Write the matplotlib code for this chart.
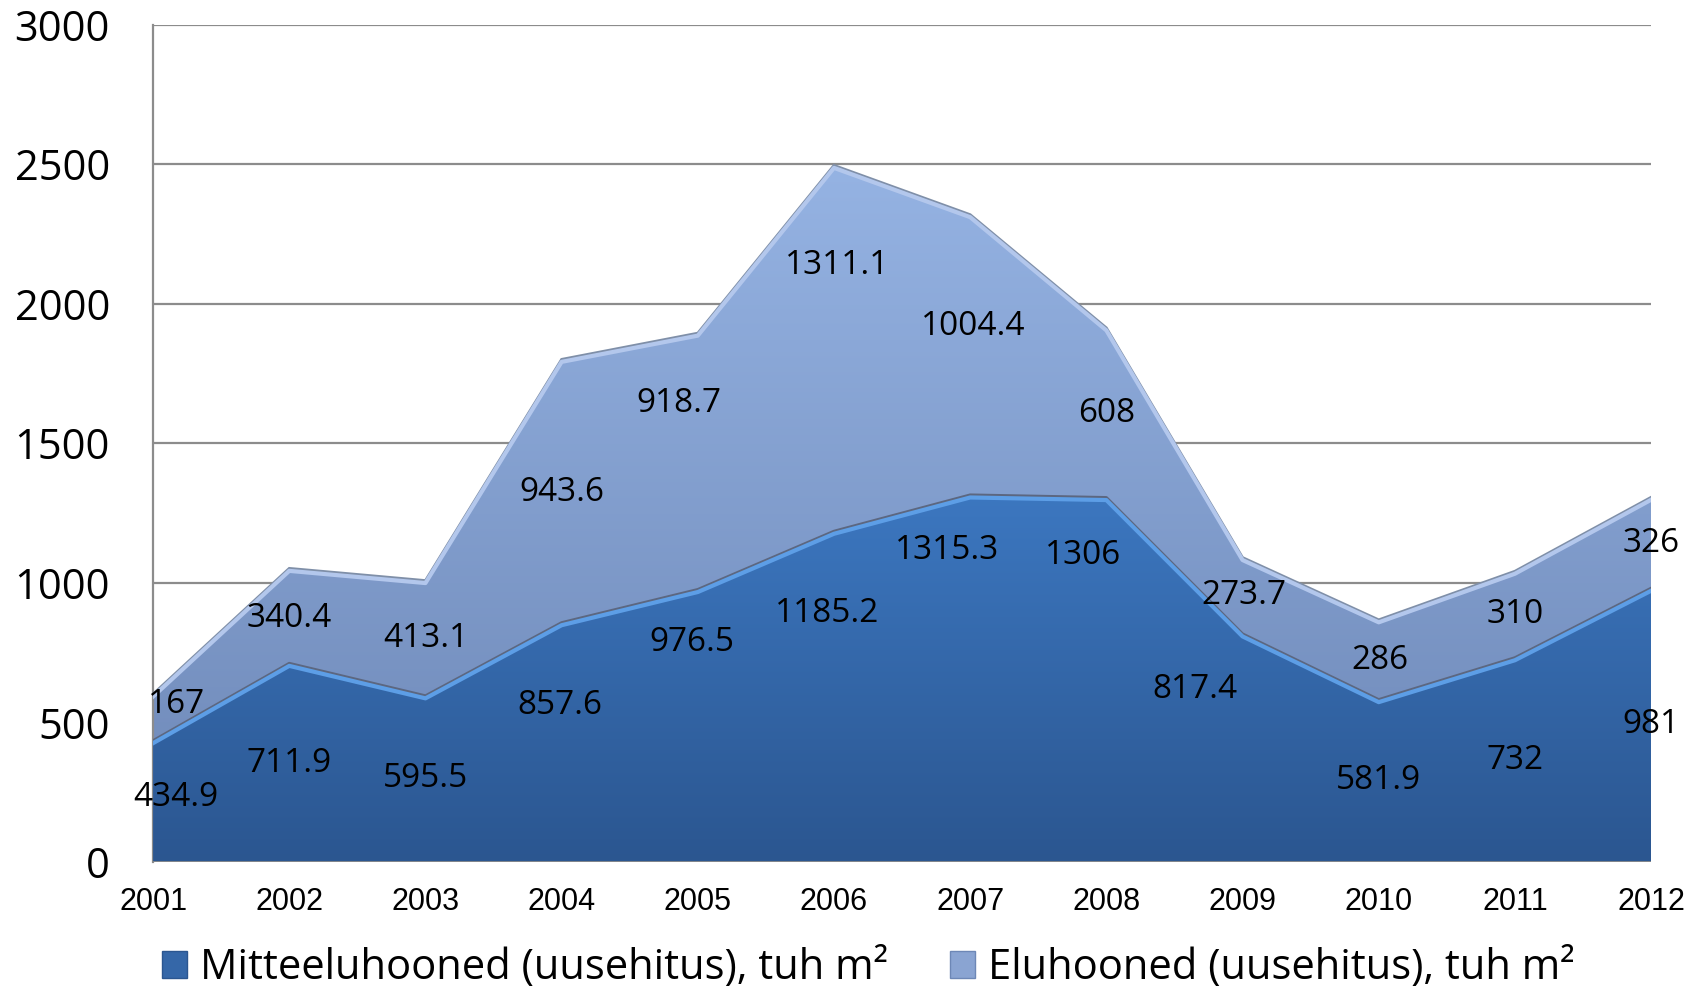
import matplotlib.pyplot as plt
import matplotlib.transforms as mtransforms
import numpy as np
from matplotlib.colors import LinearSegmentedColormap
from matplotlib.patches import Rectangle

years = ['2001', '2002', '2003', '2004', '2005', '2006',
         '2007', '2008', '2009', '2010', '2011', '2012']
mitteelu = [434.9, 711.9, 595.5, 857.6, 976.5, 1185.2,
            1315.3, 1306, 817.4, 581.9, 732, 981]
elu = [167, 340.4, 413.1, 943.6, 918.7, 1311.1,
       1004.4, 608, 273.7, 286, 310, 326]

label_mitte = 'Mitteeluhooned (uusehitus), tuh m²'
label_elu = 'Eluhooned (uusehitus), tuh m²'

# where Excel put the data labels (x in category units, y in data units)
lbl_x_mitte = [0.17, 1, 2, 2.99, 3.96, 4.95, 5.83, 6.83, 7.65, 9, 10, 11]
lbl_y_mitte = [233, 354, 299, 560, 785, 890, 1115, 1100, 618, 291, 365, 493]
lbl_x_elu = [0.17, 1, 2, 3, 3.86, 5.02, 6.02, 7, 8.01, 9.01, 10, 11]
lbl_y_elu = [563, 874, 800, 1325, 1643, 2137, 1920, 1608, 956, 723, 886, 1142]

font = ['Open Sans', 'DejaVu Sans']
narrow = ['Liberation Sans Narrow', 'Liberation Sans', 'DejaVu Sans']

x = np.arange(len(years))
low = np.array(mitteelu)
high = low + np.array(elu)

fig = plt.figure(figsize=(16.99, 9.92), dpi=100)
ax = fig.add_axes([0.0901, 0.131, 0.8817, 0.844])
ax.set_xlim(0, 11)
ax.set_ylim(0, 3000)

# gridlines
ax.set_yticks(np.arange(0, 3001, 500))
ax.yaxis.grid(True, color='#8c8c8c', linewidth=1.6)
ax.set_axisbelow(True)
for s in ['top', 'right', 'bottom']:
    ax.spines[s].set_visible(False)
ax.spines['left'].set_color('#8c8c8c')
ax.spines['left'].set_linewidth(1.6)


def gradient_fill(y0, y1, c_top, c_bot, zorder):
    poly = ax.fill_between(x, y0, y1, facecolor='none', edgecolor='none', zorder=zorder)
    cmap = LinearSegmentedColormap.from_list('g', [c_bot, c_top])
    grad = np.linspace(0, 1, 256).reshape(-1, 1)
    im = ax.imshow(grad, cmap=cmap, aspect='auto', origin='lower',
                   extent=[0, 11, 0, np.max(y1)], zorder=zorder)
    path = poly.get_paths()[0]
    im.set_clip_path(path, transform=ax.transData)
    return poly


gradient_fill(low, high, '#95b3e3', '#6d87b6', 2)
gradient_fill(np.zeros_like(low), low, '#3c77c0', '#2b5690', 3)

# bevel-like edges
down = mtransforms.offset_copy(ax.transData, fig=fig, x=0, y=-2.5, units='dots')
ax.plot(x, high, color='#7f8fa8', linewidth=2.0, zorder=4, solid_joinstyle='miter')
ax.plot(x, high, color='#b3c7ec', linewidth=3.0, zorder=4, transform=down)
ax.plot(x, low, color='#5c6780', linewidth=2.2, zorder=5)
ax.plot(x, low, color='#5d9ee6', linewidth=3.0, zorder=5, transform=down)
ax.plot([0, 11], [0, 0], color='#8c8c8c', linewidth=2, zorder=6)
ax.set_ylim(0, 3000)
ax.set_xlim(0, 11)

# data labels
for i in range(len(years)):
    ax.text(lbl_x_mitte[i], lbl_y_mitte[i], f'{mitteelu[i]:g}', ha='center', va='center',
            fontsize=24, family=font, color='black', zorder=7, clip_on=False)
    ax.text(lbl_x_elu[i], lbl_y_elu[i], f'{elu[i]:g}', ha='center', va='center',
            fontsize=24, family=font, color='black', zorder=7, clip_on=False)

ax.set_xticks(x)
ax.set_xticklabels(years, family=narrow, fontsize=22)
ax.tick_params(axis='x', length=0, pad=18)
ax.tick_params(axis='y', length=0, pad=31, labelsize=30)
for t in ax.get_yticklabels():
    t.set_family(font)

# legend
h1 = Rectangle((0, 0), 1, 1, facecolor='#3567a8', edgecolor='#2b5690')
h2 = Rectangle((0, 0), 1, 1, facecolor='#8aa4d2', edgecolor='#6d87b6')
fig.legend([h1, h2], [label_mitte, label_elu], loc='lower center',
           bbox_to_anchor=(0.511, -0.035), ncol=2, frameon=False,
           prop={'family': font, 'size': 30}, handlelength=0.6, handleheight=0.6,
           handletextpad=0.3, columnspacing=1.5)

fig.savefig('out.png', dpi=100)
